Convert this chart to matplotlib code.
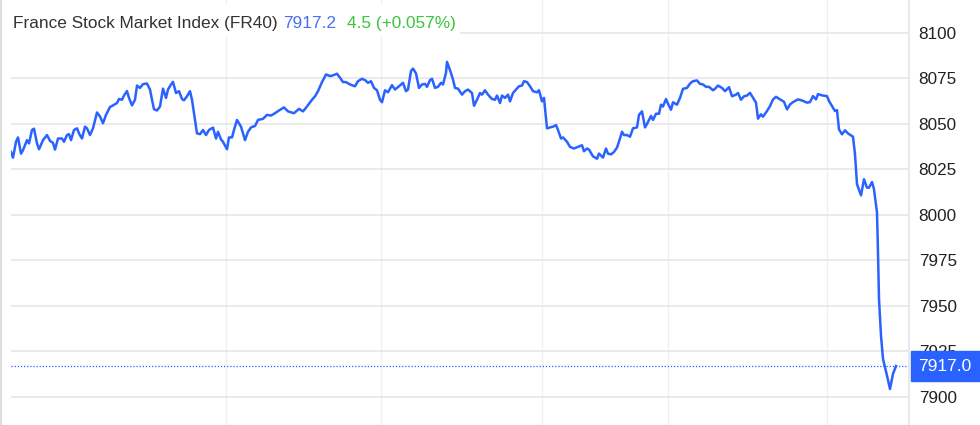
import matplotlib
matplotlib.use("Agg")
import matplotlib.pyplot as plt
from matplotlib.patches import Rectangle
from matplotlib.lines import Line2D
from matplotlib.transforms import blended_transform_factory

plt.rcParams['font.family'] = ['Liberation Sans', 'DejaVu Sans']

# intraday ticks (time index) and index level
t = [11, 13, 16, 18, 21, 23, 27, 29, 32, 34, 37, 39, 43, 47, 50, 53, 55, 58, 62, 64,
     67, 69, 71, 74, 77, 79, 82, 85, 87, 90, 93, 97, 100, 103, 106, 110, 113, 117, 119, 122,
     124, 127, 129, 132, 135, 137, 140, 143, 147, 150,
     152, 154, 157, 160, 163, 166, 168, 171, 173, 176, 179, 182, 184, 187, 190, 192, 194, 197, 200, 203,
     206, 209, 213, 216, 218, 221, 223, 227, 229, 232, 234, 237, 241, 245, 248, 251, 255, 258, 263, 267,
     271, 275, 279, 284, 288, 294, 299, 303,
     307, 312, 315, 318, 322, 326, 330, 333, 337, 340, 343, 346, 350, 355, 358, 362, 365, 368, 371, 374,
     377, 380, 382, 385, 388, 392, 395, 399, 403, 406, 408, 411, 413, 416, 419, 422, 425, 427, 430, 432,
     435, 438, 441, 443, 446, 447,
     450, 453, 455, 458, 462, 465, 468, 472, 474, 477, 480, 482, 485, 488, 492, 495, 497, 500, 502, 505,
     508, 510, 513, 516, 519, 522, 524, 527, 530, 533, 537, 539, 542, 544, 547, 550, 553, 556, 558, 561,
     563, 567, 570, 574, 578, 582, 584, 587, 589, 593, 597, 599,
     603, 606, 608, 611, 614, 617, 620, 622, 624, 627, 630, 633, 637, 639, 642, 645, 647, 651, 653, 656,
     659, 661, 663, 666, 668, 671, 673, 677, 680, 683, 687, 690, 693, 697, 700, 703, 706, 709, 713, 715,
     718, 722, 725, 729, 732, 736, 738, 741, 744, 747,
     750, 754, 756, 758, 761, 763, 767, 770, 773, 776, 780, 784, 787, 790, 793, 798, 802, 807, 810, 813,
     816, 818, 822, 827, 829, 833, 835, 837, 839, 842, 845, 848, 853, 855, 857, 861, 864, 867, 869, 872,
     874, 877, 878, 879, 881, 883, 887, 890, 893, 896]

price = [8034.6, 8031.5, 8040.2, 8042.6, 8033.7, 8035.6, 8041.1, 8039.3, 8046.7, 8047.4,
         8039.3, 8036.1, 8041.1, 8043.9, 8040.7, 8039.6, 8035.9, 8042.0, 8042.0, 8040.2,
         8043.9, 8044.4, 8041.1, 8046.7, 8047.6, 8044.8, 8042.0, 8048.5, 8047.6, 8043.9,
         8047.6, 8056.3, 8054.1, 8050.4, 8055.0, 8059.3, 8060.2, 8061.5, 8063.7, 8063.3,
         8065.6, 8068.1, 8064.3, 8060.2, 8063.3, 8071.1, 8069.8, 8071.9, 8072.2, 8068.9,
         8063.3, 8058.1, 8057.4, 8059.6, 8069.4, 8064.3, 8068.9, 8071.7, 8073.1, 8067.0,
         8068.0, 8063.7, 8063.0, 8065.2, 8068.0, 8063.3, 8055.9, 8044.8, 8044.4, 8046.7,
         8043.9, 8046.7, 8048.0, 8042.0, 8045.7, 8041.5, 8040.2, 8036.1, 8042.6, 8042.6,
         8046.7, 8052.2, 8048.5, 8041.1, 8045.7, 8048.1, 8048.9, 8052.2, 8052.8, 8055.0,
         8054.6, 8055.9, 8057.4, 8059.1, 8056.9, 8055.9, 8058.3, 8056.9,
         8059.6, 8063.3, 8065.2, 8068.0, 8073.0, 8077.2, 8076.3, 8076.7, 8077.6, 8075.4,
         8073.0, 8073.0, 8071.7, 8070.7, 8073.5, 8074.8, 8074.1, 8072.6, 8073.5, 8069.8,
         8068.5, 8063.3, 8061.9, 8068.5, 8067.4, 8071.3, 8068.9, 8070.7, 8072.6, 8068.0,
         8068.9, 8079.1, 8080.4, 8077.8, 8069.8, 8071.7, 8072.0, 8070.4, 8074.1, 8074.8,
         8069.8, 8070.4, 8072.6, 8071.7, 8078.1, 8084.1,
         8079.6, 8074.4, 8069.8, 8069.4, 8066.1, 8068.0, 8068.9, 8067.0, 8060.0, 8063.3,
         8067.0, 8066.1, 8068.5, 8066.1, 8063.7, 8063.3, 8065.6, 8061.5, 8065.6, 8064.3,
         8066.1, 8062.4, 8067.0, 8068.9, 8070.7, 8071.1, 8073.5, 8073.0, 8070.7, 8068.0,
         8067.4, 8068.5, 8062.4, 8064.3, 8047.6, 8048.1, 8048.5, 8049.4, 8046.7, 8042.0,
         8042.6, 8040.2, 8037.4, 8036.5, 8037.4, 8038.3, 8035.0, 8036.5, 8035.9, 8032.2,
         8030.9, 8033.7,
         8031.5, 8036.5, 8033.7, 8033.3, 8034.6, 8037.0, 8042.0, 8045.7, 8043.9, 8043.9,
         8043.0, 8047.6, 8048.1, 8055.0, 8056.9, 8048.1, 8050.0, 8054.4, 8052.2, 8055.6,
         8055.6, 8060.6, 8059.6, 8063.7, 8061.1, 8057.8, 8061.9, 8060.6, 8064.3, 8069.3,
         8069.8, 8072.2, 8073.5, 8073.9, 8072.0, 8071.7, 8070.4, 8070.4, 8068.5, 8069.3,
         8071.1, 8069.8, 8068.0, 8070.2, 8065.2, 8066.1, 8067.0, 8063.3, 8065.2, 8065.6,
         8067.1, 8063.5, 8061.7, 8052.9, 8055.3, 8054.0, 8057.1, 8059.8, 8063.5, 8064.9,
         8063.5, 8062.2, 8058.0, 8060.7, 8062.0, 8063.5, 8062.9, 8061.7, 8062.0, 8065.3,
         8063.5, 8066.4, 8065.7, 8065.3, 8062.6, 8058.9, 8057.1, 8057.6, 8047.0, 8044.3,
         8046.5, 8044.8, 8043.0, 8033.3, 8016.9, 8010.8, 8019.6, 8015.0, 8015.0, 8018.1,
         8014.1, 8001.3, 7979.4, 7953.8, 7933.7, 7920.9, 7911.7, 7904.4, 7912.7, 7917.0]

y_ticks = [7900, 7925, 7950, 7975, 8000, 8025, 8050, 8075, 8100]
session_breaks = [226, 381, 542, 668, 827]
last_price = 7917.0
title = "France Stock Market Index (FR40)"
quote = "7917.2"
change = "4.5 (+0.057%)"

blue = '#2962ff'

fig = plt.figure(figsize=(9.8, 4.25), dpi=100)
W, H = 980, 425
ax = fig.add_axes([11 / W, 0, (909 - 11) / W, 1])

ax.plot(t, price, color=blue, lw=1.8, solid_joinstyle='round', zorder=3)
ax.set_xlim(11, 909)
ax.set_ylim(7884.6, 8118.1)

ax.yaxis.tick_right()
ax.set_yticks(y_ticks)
ax.set_xticks(session_breaks)
ax.tick_params(axis='x', length=0, labelbottom=False)
ax.tick_params(axis='y', length=0, pad=7, labelsize=12.3, labelcolor='#222222')
ax.grid(axis='y', color='#e6e6e6', lw=1.2)
ax.grid(axis='x', color='#edf1f6', lw=1.0)
for s in ['top', 'bottom', 'left']:
    ax.spines[s].set_visible(False)
ax.spines['right'].set_color('#e3e6ea')
ax.spines['right'].set_linewidth(1.2)

# last price marker
ax.axhline(last_price, color=blue, lw=0.9, ls=(0, (1, 1.5)), zorder=2)
tr = blended_transform_factory(fig.transFigure, ax.transData)
box_h = 30 / H * (8118.1 - 7884.6)
ax.add_patch(Rectangle((911 / W, last_price - box_h / 2), 69 / W, box_h,
                       transform=tr, color=blue, clip_on=False, zorder=5))
ax.text(945 / W, last_price, f"{last_price:.1f}", transform=tr, color='white',
        fontsize=12.5, ha='center', va='center', zorder=6)

# title with white background
fig.patches.append(Rectangle((11 / W, 1 - 36 / H), 448 / W, 31 / H,
                             transform=fig.transFigure, color='white', zorder=4))
y_base = 1 - 28 / H
txt = fig.text(13 / W, y_base, title, color='#333333', fontsize=12.4, va='baseline', zorder=5)
fig.canvas.draw()
r = fig.canvas.get_renderer()
x1 = txt.get_window_extent(r).x1 + 6
txt2 = fig.text(x1 / W, y_base, quote, color='#4a6cf7', fontsize=12.4, va='baseline', zorder=5)
x2 = txt2.get_window_extent(r).x1 + 10
fig.text(x2 / W, y_base, change, color='#3cc43c', fontsize=12.4, va='baseline', zorder=5)

fig.add_artist(Line2D([1 / W, 1 / W], [0, 1], color='#dddddd', lw=1.5))

fig.savefig("out.png", dpi=100, facecolor='white')
